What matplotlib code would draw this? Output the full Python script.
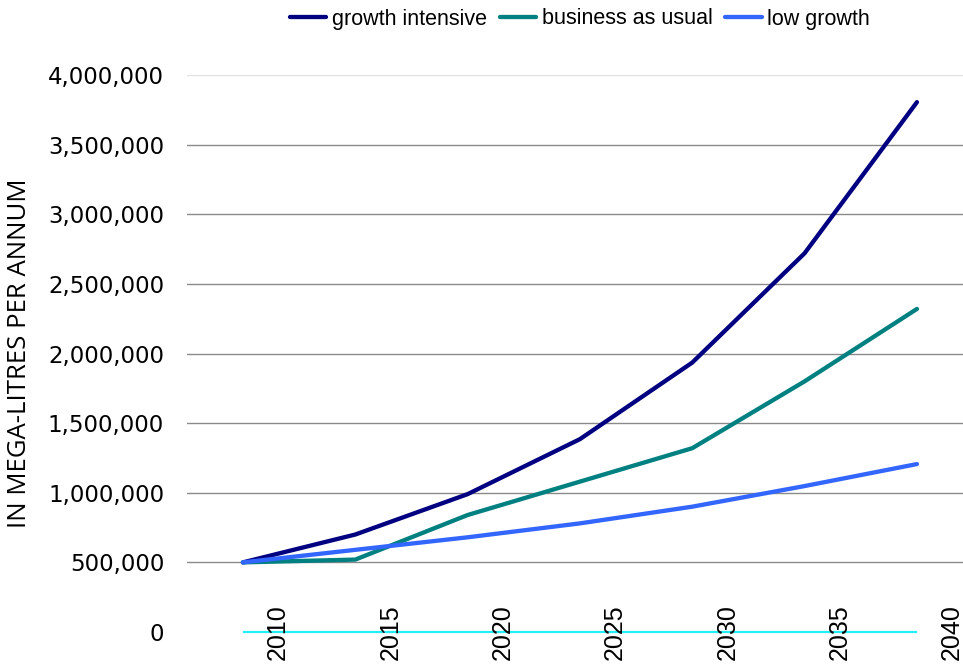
import numpy as np
import matplotlib
matplotlib.use("Agg")
import matplotlib.pyplot as plt
from matplotlib.ticker import FuncFormatter
from matplotlib.transforms import ScaledTranslation

# water demand projections, mega-litres per annum
years = [2010, 2015, 2020, 2025, 2030, 2035, 2040]
growth_intensive = [500000, 700000, 990000, 1385000, 1935000, 2720000, 3805000]
business_as_usual = [500000, 520000, 840000, 1080000, 1320000, 1800000, 2320000]
low_growth = [500000, 590000, 680000, 780000, 900000, 1048000, 1206000]

series = [
    ("growth intensive", growth_intensive, "#000080"),
    ("business as usual", business_as_usual, "#008080"),
    ("low growth", low_growth, "#3366FF"),
]

fig = plt.figure(figsize=(9.63, 6.65), dpi=100)
ax = fig.add_axes([187 / 963, 33 / 665, 1 - 187 / 963, 557 / 665])

for name, vals, col in series:
    ax.plot(years, vals, color=col, lw=3.1, label=name, solid_capstyle="round",
            solid_joinstyle="round", zorder=3)

ax.set_xlim(2007.51, 2042.05)
ax.set_ylim(0, 4000000)
ax.set_yticks(np.arange(0, 4000001, 500000))
ax.yaxis.set_major_formatter(FuncFormatter(lambda v, p: f"{int(v):,}"))
ax.tick_params(axis="y", length=0, pad=16.5, labelsize=16.5)
for lbl in ax.get_yticklabels():
    lbl.set_fontfamily("DejaVu Sans")

ax.set_xticks([])
for s in ax.spines.values():
    s.set_visible(False)

# horizontal grid, no line at zero (the axis line goes there)
for v in ax.get_yticks()[1:]:
    c = "#e2e2e2" if v == 4000000 else "#8a8a8a"
    ax.axhline(v, color=c, lw=1, zorder=1)
ax.hlines(0, years[0], years[-1], color="#22eef5", lw=1.6, zorder=2,
          clip_on=False)

# year labels sit across the axis line, shifted right
off = ScaledTranslation(0.35, 0, fig.dpi_scale_trans)
for yr in years:
    ax.text(yr, 0, str(yr), rotation=90, rotation_mode="anchor",
            ha="center", va="center", fontsize=18,
            fontfamily="Liberation Sans", transform=ax.transData + off,
            clip_on=False)

fig.text(20 / 963, 1 - 353 / 665, "IN MEGA-LITRES PER ANNUM", rotation=90,
         ha="center", va="center", fontsize=18.5, fontfamily="Open Sans")

fig.legend(loc="center", bbox_to_anchor=(580 / 963, 1 - 19 / 665), ncol=3,
           frameon=False, prop={"family": "Liberation Sans", "size": 15.5},
           handlelength=1.7, handletextpad=0.25, columnspacing=0.6)

fig.savefig("out.png", dpi=100)
